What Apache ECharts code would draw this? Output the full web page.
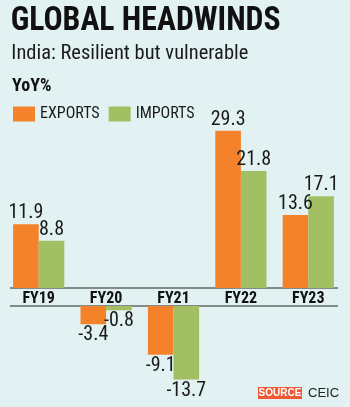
<!DOCTYPE html>
<html>
<head>
<meta charset="utf-8">
<script src="https://cdn.jsdelivr.net/npm/echarts@6/dist/echarts.min.js"></script>
<style>
  html, body { margin: 0; padding: 0; background: #e2f2f2; }
  #chart { width: 350px; height: 407px; }
</style>
</head>
<body>
<div id="chart"></div>
<script>
var categories = ["FY19", "FY20", "FY21", "FY22", "FY23"];
var exportsYoY = [11.9, -3.4, -9.1, 29.3, 13.6];
var importsYoY = [8.8, -0.8, -13.7, 21.8, 17.1];

var NARROW = "'Roboto Condensed', sans-serif";
var ORANGE = "#f4822a";
var GREEN = "#a2c063";

function pos(arr) { return arr.map(function (v) { return v >= 0 ? v : "-"; }); }
function neg(arr) { return arr.map(function (v) { return v < 0 ? v : "-"; }); }

// squeeze a heading to the width it has in the print graphic
var ctx = document.createElement("canvas").getContext("2d");
function squeeze(text, font, width) {
  ctx.font = font;
  return Math.min(1, width / ctx.measureText(text).width);
}
function heading(text, font, x, y, width, color) {
  return {
    type: "text", x: x, y: y, scaleX: squeeze(text, font, width), originX: x,
    style: { text: text, font: font, fill: color, verticalAlign: "top" }
  };
}

var chart = echarts.init(document.getElementById("chart"));

var labelUp = { show: true, position: "top", distance: 1, color: "#1a1a1a", fontFamily: NARROW, fontSize: 20 };
var labelDown = { show: true, position: "bottom", distance: 1, color: "#1a1a1a", fontFamily: NARROW, fontSize: 20 };

var TITLE_FONT = "bold 34px 'Roboto Condensed'";
var SUB_FONT = "21px 'Roboto Condensed'";
var YOY_FONT = "bold 18px 'Roboto Condensed'";

chart.setOption({
  backgroundColor: "#e2f2f2",
  animation: false,
  legend: {
    left: 13, top: 106, padding: 0,
    icon: "rect",
    itemWidth: 22, itemHeight: 15, itemGap: 9, itemStyle: { borderWidth: 0 },
    data: ["EXPORTS", "IMPORTS"],
    textStyle: { fontFamily: NARROW, fontSize: 16, color: "#1a1a1a" }
  },
  grid: [
    { left: 5, right: 8, top: 127, bottom: 119 },
    { left: 5, right: 8, top: 306, bottom: 20.5 }
  ],
  xAxis: [
    {
      type: "category", gridIndex: 0, data: categories,
      axisLine: { show: false }, axisTick: { show: false },
      axisLabel: { margin: 3, fontFamily: NARROW, fontWeight: "bold", fontSize: 16, color: "#111" }
    },
    {
      type: "category", gridIndex: 1, data: categories,
      axisLine: { show: false }, axisTick: { show: false }, axisLabel: { show: false }
    }
  ],
  yAxis: [
    { type: "value", gridIndex: 0, min: 0, max: 30, show: false, splitLine: { show: false } },
    { type: "value", gridIndex: 1, min: -15, max: 0, show: false, splitLine: { show: false } }
  ],
  series: [
    {
      name: "EXPORTS", type: "bar", xAxisIndex: 0, yAxisIndex: 0,
      data: pos(exportsYoY), barGap: "0%", barCategoryGap: "24%",
      itemStyle: { color: ORANGE }, label: labelUp
    },
    {
      name: "IMPORTS", type: "bar", xAxisIndex: 0, yAxisIndex: 0,
      data: pos(importsYoY), barGap: "0%", barCategoryGap: "24%",
      itemStyle: { color: GREEN }, label: labelUp
    },
    {
      name: "EXPORTS", type: "bar", xAxisIndex: 1, yAxisIndex: 1,
      data: neg(exportsYoY), barGap: "0%", barCategoryGap: "24%",
      itemStyle: { color: ORANGE }, label: labelDown
    },
    {
      name: "IMPORTS", type: "bar", xAxisIndex: 1, yAxisIndex: 1,
      data: neg(importsYoY), barGap: "0%", barCategoryGap: "24%",
      itemStyle: { color: GREEN }, label: labelDown
    }
  ],
  graphic: [
    heading("GLOBAL HEADWINDS", TITLE_FONT, 10, 4, 270, "#111"),
    heading("India: Resilient but vulnerable", SUB_FONT, 11, 43, 237, "#1a1a1a"),
    heading("YoY%", YOY_FONT, 12, 77, 48, "#111"),
    { type: "line", shape: { x1: 10, y1: 288, x2: 338, y2: 288 }, style: { stroke: "#222", lineWidth: 1.2 } },
    { type: "line", shape: { x1: 10, y1: 306, x2: 338, y2: 306 }, style: { stroke: "#222", lineWidth: 1.2 } },
    {
      type: "group", left: 258, top: 387,
      children: [
        { type: "rect", shape: { x: 0, y: 0, width: 44, height: 12 }, style: { fill: "#ee5a34" } },
        { type: "text", x: 22, y: 6.5, style: { text: "SOURCE", fill: "#fff", font: "bold 10px 'Liberation Sans', Arial, sans-serif", align: "center", verticalAlign: "middle" } },
        { type: "text", x: 50, y: 6.5, style: { text: "CEIC", fill: "#222", font: "13px 'Liberation Sans', Arial, sans-serif", align: "left", verticalAlign: "middle" } }
      ]
    }
  ]
});
</script>
</body>
</html>
